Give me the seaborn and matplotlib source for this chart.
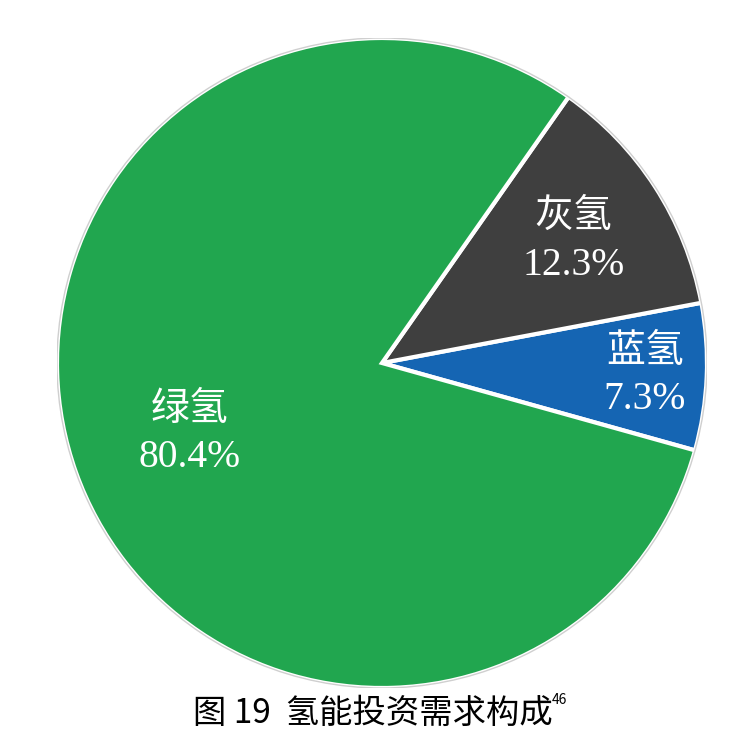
import numpy as np
import matplotlib
matplotlib.use('Agg')
import matplotlib.pyplot as plt
import seaborn as sns

# data
labels = ['蓝氢', '灰氢', '绿氢']
shares = [7.3, 12.3, 80.4]
colors = ['#1565B3', '#3F3F3F', '#21A64F']
# how far from the centre each label sits (fraction of radius)
label_dist = [0.81, 0.70, 0.63]

sns.set_theme(style='white')
plt.rcParams['font.family'] = ['Liberation Serif', 'Noto Sans CJK SC', 'DejaVu Sans']

fig = plt.figure(figsize=(7.31, 7.47), dpi=100)
ax = fig.add_axes([57 / 731, 59 / 747, 650 / 731, 650 / 747])

wedges, _ = ax.pie(shares, colors=colors, startangle=-15.6, counterclock=True,
                   radius=1, wedgeprops=dict(edgecolor='white', linewidth=3))
ax.add_patch(plt.Circle((0, 0), 1.0, fill=False, edgecolor='#cfcfcf', linewidth=1))
ax.set_xlim(-1.0, 1.0)
ax.set_ylim(-1.0, 1.0)
ax.set_aspect('equal')
ax.axis('off')

for w, lab, val, d in zip(wedges, labels, shares, label_dist):
    mid = np.deg2rad((w.theta1 + w.theta2) / 2)
    x, y = d * np.cos(mid), d * np.sin(mid)
    ax.text(x, y + 0.072, lab, ha='center', va='center', color='white',
            fontsize=28, family=['Noto Sans CJK SC'], fontweight='light')
    ax.text(x, y - 0.078, f'{val:.1f}%', ha='center', va='center', color='white',
            fontsize=28.5, family=['Liberation Serif'])

fig.text(193 / 731, 0.045, '图 19  氢能投资需求构成', ha='left', va='center',
         fontsize=24, family=['Noto Sans CJK SC', 'DejaVu Sans'], color='black')
fig.text(552 / 731, 0.063, '46', ha='left', va='center', fontsize=10,
         family=['Noto Sans CJK SC', 'DejaVu Sans'], color='black')

plt.savefig('out.png', dpi=100)
